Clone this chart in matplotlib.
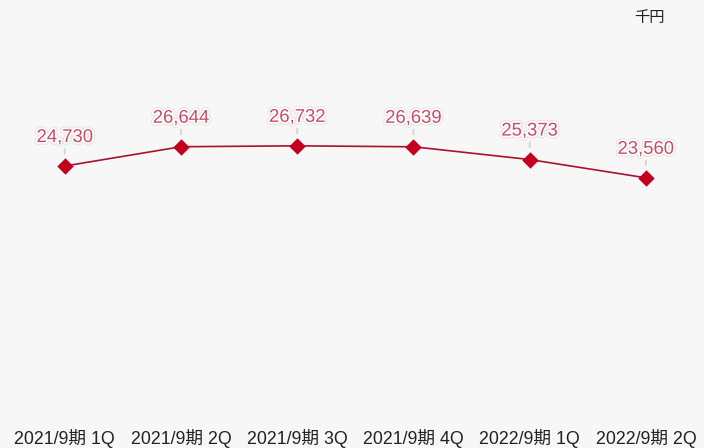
import matplotlib
matplotlib.use("Agg")
import matplotlib.pyplot as plt
import matplotlib.patheffects as pe

plt.rcParams["font.family"] = ["Liberation Sans", "Noto Sans CJK JP", "DejaVu Sans"]

categories = ["2021/9期 1Q", "2021/9期 2Q", "2021/9期 3Q",
              "2021/9期 4Q", "2022/9期 1Q", "2022/9期 2Q"]
values = [24730, 26644, 26732, 26639, 25373, 23560]
unit_label = "千円"

BG = "#f7f7f7"
LINE = "#a8122f"
MARK = "#c4001f"
TEXT = "#cc4a64"

fig = plt.figure(figsize=(7.04, 4.48), dpi=100, facecolor=BG)
ax = fig.add_axes([0.0095, 0.073, 0.9905, 0.90])
ax.set_facecolor(BG)

x = list(range(len(values)))
ax.plot(x, values, color=LINE, linewidth=1.2, zorder=2)
ax.scatter(x, values, marker="D", s=70, color=MARK, zorder=3, linewidths=0)

for xi, v in zip(x, values):
    ax.annotate(
        f"{v:,}", xy=(xi, v), xytext=(0, 20.5), textcoords="offset points",
        ha="center", va="center", fontsize=13.3, color=TEXT,
        path_effects=[pe.withStroke(linewidth=4, foreground="#e4e4e4"),
                      pe.withStroke(linewidth=2.5, foreground="white")],
        arrowprops=dict(arrowstyle="-", color="#d8d8d8", lw=1.5,
                        shrinkA=0, shrinkB=9),
        zorder=1,
    )

ax.set_xlim(-0.5, len(values) - 0.5)
ax.set_ylim(0, 40000)
ax.set_xticks(x)
ax.set_xticklabels(categories, fontsize=12.8, color="#222222")
ax.tick_params(axis="x", length=0, pad=10)
ax.set_yticks([])
for side in ax.spines.values():
    side.set_visible(False)

fig.text(0.923, 0.96, unit_label, ha="center", va="center", fontsize=11, color="#222222")

fig.savefig("out.png", dpi=100, facecolor=BG)
